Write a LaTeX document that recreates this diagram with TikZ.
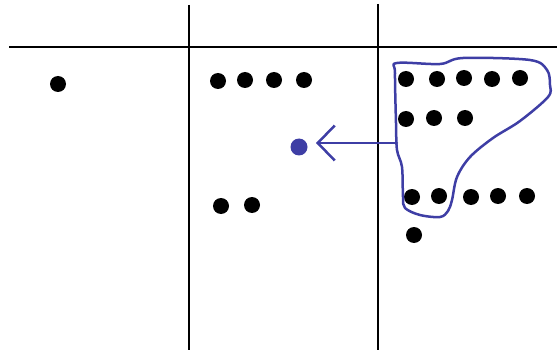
\documentclass[tikz,border=0pt]{standalone}
\usetikzlibrary{arrows.meta}
\definecolor{pen}{RGB}{62,62,165}
\begin{document}
\begin{tikzpicture}[x=1pt,y=-1pt,
  dot/.style={circle,fill=black,inner sep=0pt,minimum size=16pt},
  bdot/.style={circle,fill=pen,inner sep=0pt,minimum size=17pt},
  rule/.style={line width=2.8pt,black},
  ink/.style={line width=2.5pt,pen,line cap=round,line join=round}]
\useasboundingbox (0,0) rectangle (557,350);
\coordinate (h1) at (9,47); \coordinate (h2) at (557,47);
\coordinate (v1a) at (189,5); \coordinate (v1b) at (189,350);
\coordinate (v2a) at (378,4); \coordinate (v2b) at (378,350);
\draw[rule] (h1) -- (h2);
\draw[rule] (v1a) -- (v1b);
\draw[rule] (v2a) -- (v2b);
% column 1
\node[dot] (a1) at (58,84) {};
% column 2
\node[dot] (b1) at (218,81) {};
\node[dot] (b2) at (245,80) {};
\node[dot] (b3) at (274,80) {};
\node[dot] (b4) at (304,80) {};
\node[dot] (b5) at (221,206) {};
\node[dot] (b6) at (252,205) {};
% column 3
\node[dot] (c1) at (406,79) {};
\node[dot] (c2) at (437,79) {};
\node[dot] (c3) at (464,78) {};
\node[dot] (c4) at (492,79) {};
\node[dot] (c5) at (520,78) {};
\node[dot] (c6) at (406,119) {};
\node[dot] (c7) at (434,118) {};
\node[dot] (c8) at (465,118) {};
\node[dot] (c9) at (412,197) {};
\node[dot] (c10) at (439,196) {};
\node[dot] (c11) at (471,197) {};
\node[dot] (c12) at (498,196) {};
\node[dot] (c13) at (527,196) {};
\node[dot] (c14) at (414,235) {};
% blue dot
\node[bdot] (bd) at (299,147) {};
% lasso
\draw[ink] plot[smooth cycle,tension=0.55] coordinates {
 (397,63) (440,64) (463,58) (530,60) (547,70) (550,85) (548,97)
 (520,121) (493,138) (470,157) (457,177) (452,200) (448,211)
 (440,217) (420,215) (405,208) (403,197) (402,167) (397,150)
 (396,123) (395,73)};
\coordinate (ls) at (397,143);
\coordinate (tip) at (316,143);
\draw[ink,-{Straight Barb[length=17pt,width=35pt,line width=2.5pt]}] (ls) -- (tip);
\end{tikzpicture}
\end{document}
